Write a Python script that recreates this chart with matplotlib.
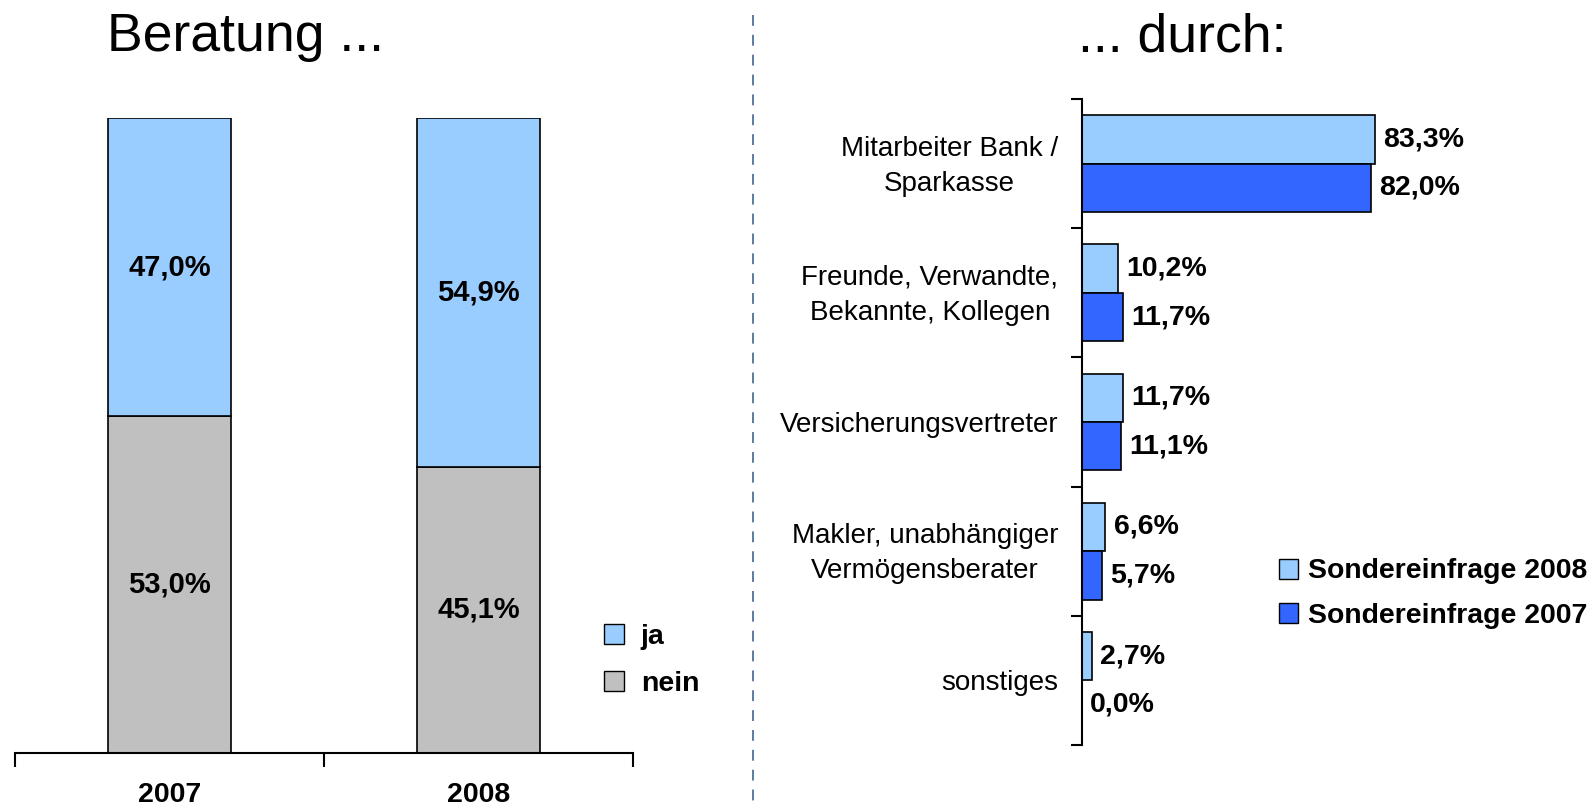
import matplotlib
matplotlib.use("Agg")
import matplotlib.pyplot as plt
import matplotlib.transforms as mtransforms
from matplotlib.patches import Patch
from matplotlib.lines import Line2D

plt.rcParams['font.family'] = ['Liberation Sans', 'DejaVu Sans']

# ---- data ----
years = ["2007", "2008"]
nein = [53.0, 45.1]
ja = [47.0, 54.9]

sources = ["Mitarbeiter Bank /\nSparkasse", "Freunde, Verwandte,\nBekannte, Kollegen",
           "Versicherungsvertreter", "Makler, unabhängiger\nVermögensberater", "sonstiges"]
s2008 = [83.3, 10.2, 11.7, 6.6, 2.7]
s2007 = [82.0, 11.7, 11.1, 5.7, 0.0]

c_ja = "#99CCFF"
c_nein = "#C0C0C0"
c_08 = "#99CCFF"
c_07 = "#3366FF"

W, H = 1594, 807
fig = plt.figure(figsize=(W / 100, H / 100), dpi=100)

def fx(px):
    return px / W

def fy(py):
    return 1 - py / H

fs_val = 21
fs_lab = 20

# ---- left chart ----
axL = fig.add_axes([fx(15), fy(753), fx(633) - fx(15), fy(118) - fy(753)])
xpos = [0.5, 1.5]
axL.bar(xpos, nein, width=0.4, color=c_nein, edgecolor="black", linewidth=1.2)
axL.bar(xpos, ja, width=0.4, bottom=nein, color=c_ja, edgecolor="black", linewidth=1.2)
for x, n, j in zip(xpos, nein, ja):
    axL.text(x, n / 2, f"{n:.1f}%".replace(".", ","), ha="center", va="center",
             fontsize=fs_val, fontweight="bold")
    axL.text(x, n + j / 2, f"{j:.1f}%".replace(".", ","), ha="center", va="center",
             fontsize=fs_val, fontweight="bold")
axL.set_xlim(0, 2)
axL.set_ylim(0, 100)
for s in ["top", "right", "left"]:
    axL.spines[s].set_visible(False)
axL.spines["bottom"].set_linewidth(1.5)
axL.set_yticks([])
axL.set_xticks([0, 1, 2])
axL.set_xticklabels([])
axL.tick_params(axis="x", which="major", length=10, width=1.5, direction="out")
axL.set_xticks(xpos, minor=True)
axL.set_xticklabels(years, minor=True, fontsize=20.5, fontweight="bold")
axL.tick_params(axis="x", which="minor", length=0, pad=21)

fig.text(fx(107), fy(37), "Beratung ...", fontsize=38.5, ha="left", va="center")

legL = fig.legend(handles=[Patch(facecolor=c_ja, edgecolor="black", label="ja"),
                           Patch(facecolor=c_nein, edgecolor="black", label="nein")],
                  loc="upper left", bbox_to_anchor=(fx(578), fy(598)), frameon=False,
                  prop={"size": 20.5, "weight": "bold"}, handlelength=0.7,
                  handleheight=0.7, handletextpad=0.6, labelspacing=0.75)

# ---- right chart ----
axR = fig.add_axes([fx(1082), fy(745), fx(1434) - fx(1082), fy(99) - fy(745)])
ypos = list(range(len(sources)))
bh = 0.375
y08 = [y - bh / 2 for y in ypos]
y07 = [y + bh / 2 for y in ypos]
axR.barh(y08, s2008, height=bh, color=c_08, edgecolor="black", linewidth=1.2)
axR.barh(y07, s2007, height=bh, color=c_07, edgecolor="black", linewidth=1.2)
for yy, v in list(zip(y08, s2008)) + list(zip(y07, s2007)):
    axR.annotate(f"{v:.1f}%".replace(".", ","), xy=(v, yy), xytext=(6, 0),
                 textcoords="offset points", ha="left", va="center",
                 fontsize=fs_val - 0.5, fontweight="bold")
axR.set_xlim(0, 100)
axR.set_ylim(len(sources) - 0.5, -0.5)
for s in ["top", "right", "bottom"]:
    axR.spines[s].set_visible(False)
axR.spines["left"].set_linewidth(1.5)
axR.set_xticks([])
axR.set_yticks([y - 0.5 for y in ypos] + [len(sources) - 0.5])
axR.set_yticklabels([])
axR.tick_params(axis="y", which="major", length=8, width=1.5, direction="out")
axR.set_yticks(ypos, minor=True)
axR.set_yticklabels(sources, minor=True, fontsize=fs_lab, multialignment="center",
                    linespacing=1.45)
axR.tick_params(axis="y", which="minor", length=0, pad=17)
shift_up = mtransforms.ScaledTranslation(0, 5 / 100, fig.dpi_scale_trans)
for lab in axR.get_yticklabels(minor=True):
    if "\n" in lab.get_text():
        lab.set_transform(lab.get_transform() + shift_up)

fig.text(fx(1078), fy(37), "... durch:", fontsize=38.5, ha="left", va="center")

legR = fig.legend(handles=[Patch(facecolor=c_08, edgecolor="black", label="Sondereinfrage 2008"),
                           Patch(facecolor=c_07, edgecolor="black", label="Sondereinfrage 2007")],
                  loc="upper left", bbox_to_anchor=(fx(1253), fy(533)), frameon=False,
                  prop={"size": 20.4, "weight": "bold"}, handlelength=0.7,
                  handleheight=0.7, handletextpad=0.35, labelspacing=0.66)

# dashed separator
fig.add_artist(Line2D([fx(753), fx(753)], [fy(15), fy(803)], color="#4F6F99",
                      linestyle=(0, (6, 5)), linewidth=1.3))

fig.savefig("out.png", dpi=100)
